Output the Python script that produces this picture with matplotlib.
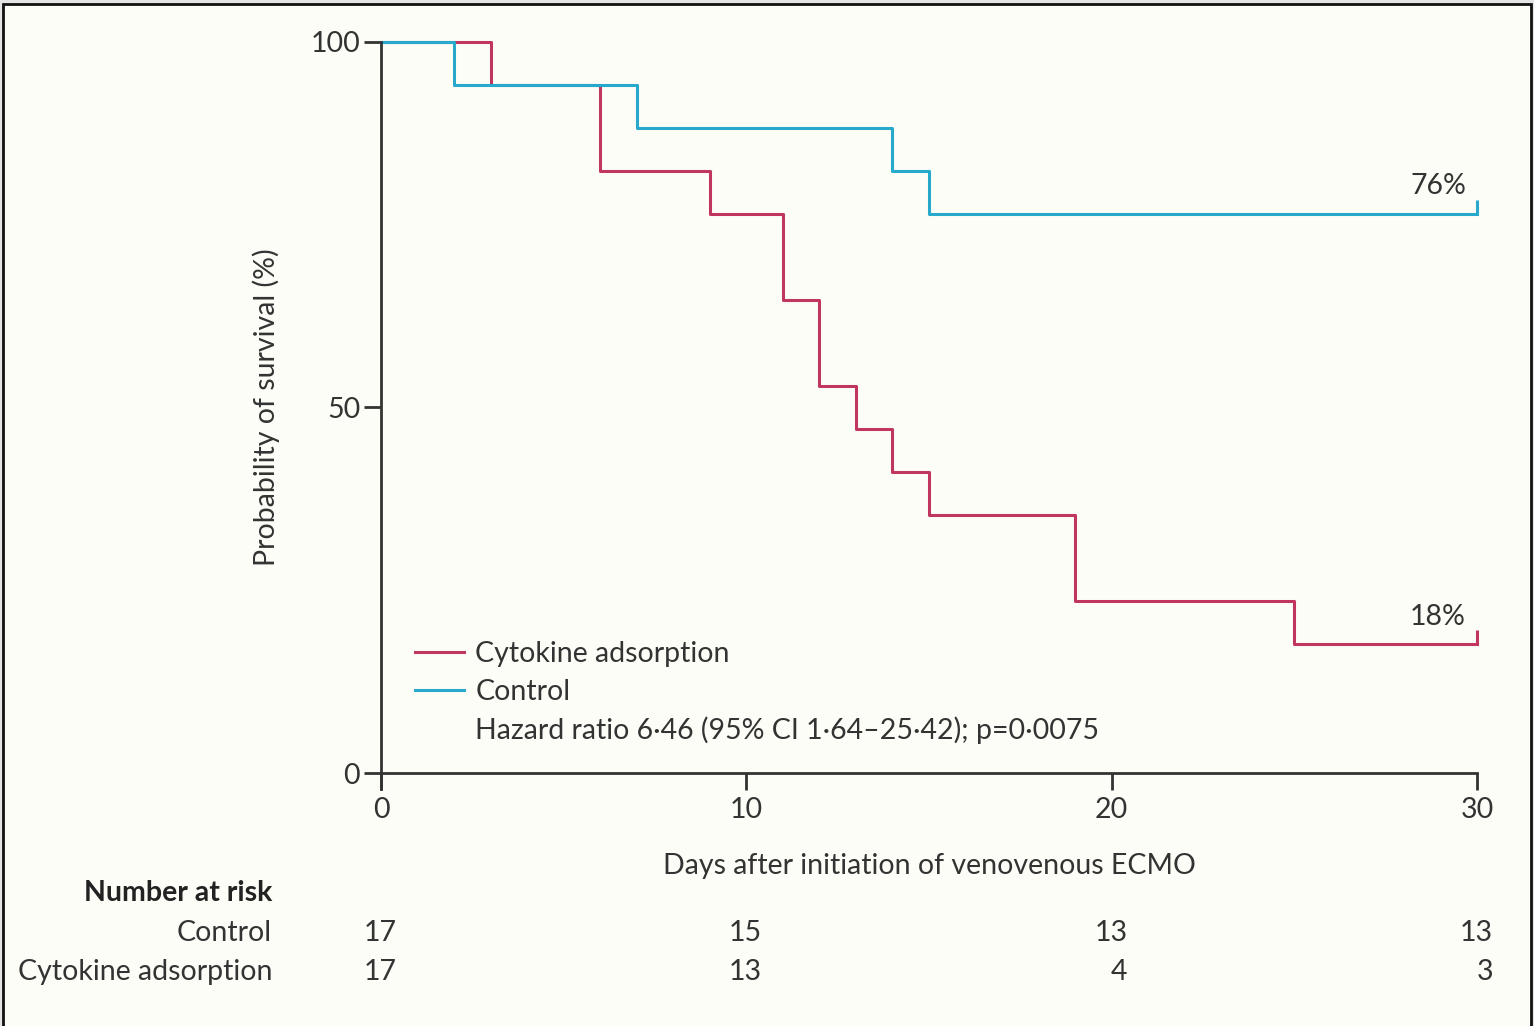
import matplotlib
matplotlib.use("Agg")
import matplotlib.pyplot as plt
from matplotlib.patches import Rectangle
from matplotlib.lines import Line2D
from matplotlib.transforms import blended_transform_factory, offset_copy

# Kaplan-Meier steps
days_cyto = [0, 3, 6, 9, 11, 12, 13, 14, 15, 19, 25, 30]
surv_cyto = [100, 94.1, 82.4, 76.5, 64.7, 52.9, 47.1, 41.2, 35.3, 23.5, 17.6, 17.6]
days_ctrl = [0, 2, 7, 14, 15, 30]
surv_ctrl = [100, 94.1, 88.2, 82.4, 76.5, 76.5]

end_labels = ["18%", "76%"]

risk_times = [0, 10, 20, 30]
risk_ctrl = [17, 15, 13, 13]
risk_cyto = [17, 13, 4, 3]

RED = "#c0365f"
BLUE = "#27a9cb"
INK = "#333333"
BG = "#fdfdf7"
FS = 20.5

plt.rcParams["font.family"] = ["Lato", "DejaVu Sans"]
plt.rcParams["font.size"] = FS

fig = plt.figure(figsize=(15.34, 10.26), dpi=100)
fig.patch.set_facecolor("#e4e4e4")
fig.patches.append(Rectangle((3.5 / 1534, -0.05), 1527 / 1534, 1.05 - 4.5 / 1026,
                             transform=fig.transFigure, facecolor=BG,
                             edgecolor="#111111", linewidth=2, zorder=-10))

ax = fig.add_axes([381 / 1534, 1 - 773 / 1026, 1096 / 1534, 731 / 1026])
ax.set_facecolor("none")

ax.step(days_cyto, surv_cyto, where="post", color=RED, lw=2.2, clip_on=False,
        label="Cytokine adsorption")
ax.step(days_ctrl, surv_ctrl, where="post", color=BLUE, lw=2.2, clip_on=False,
        label="Control")

# censoring ticks at end of follow-up
up_tick = [(0, 0), (0, 1)]
for d, s, c in [(days_cyto, surv_cyto, RED), (days_ctrl, surv_ctrl, BLUE)]:
    ax.plot(d[-1], s[-1], marker=up_tick, ms=20, mew=2.2, color=c, clip_on=False)

for d, s, lab in [(days_cyto, surv_cyto, end_labels[0]), (days_ctrl, surv_ctrl, end_labels[1])]:
    ax.annotate(lab, (d[-1], s[-1]), xytext=(-8, 20), textcoords="offset points",
                ha="right", va="center", color=INK)

ax.set_xlim(0, 30)
ax.set_ylim(0, 100)
ax.set_xticks([0, 10, 20, 30])
ax.set_yticks([0, 50, 100])
ax.tick_params(direction="out", length=12, width=2, color=INK, labelcolor=INK,
               labelsize=FS)
ax.tick_params(axis="x", pad=5)
ax.tick_params(axis="y", pad=3)
for side in ["top", "right"]:
    ax.spines[side].set_visible(False)
for side in ["left", "bottom"]:
    ax.spines[side].set_color(INK)
    ax.spines[side].set_linewidth(2)
ax.spines["left"].set_bounds(-2.2, 100)

ax.set_xlabel("Days after initiation of venovenous ECMO", color=INK, labelpad=22)
ax.set_ylabel("Probability of survival (%)", color=INK, labelpad=22)

handles, labels = ax.get_legend_handles_labels()
handles.append(Line2D([], [], color="none"))
labels.append("Hazard ratio 6\u00b746 (95% CI 1\u00b764\u201325\u00b742); p=0\u00b70075")
ax.legend(handles, labels, loc="lower left", bbox_to_anchor=(0.008, 0.004),
          frameon=False, handlelength=1.7, handletextpad=0.4, labelspacing=0.42,
          labelcolor=INK, fontsize=FS)

# number at risk table
fig.text(272 / 1534, 1 - 893 / 1026, "Number at risk", ha="right", va="center",
         fontweight="bold", color="#222222")
row_y = [1 - 933 / 1026, 1 - 972 / 1026]
risk_trans = offset_copy(blended_transform_factory(ax.transData, fig.transFigure),
                         fig=fig, x=16, y=0, units="dots")
for name, counts, y in [("Control", risk_ctrl, row_y[0]),
                        ("Cytokine adsorption", risk_cyto, row_y[1])]:
    fig.text(272 / 1534, y, name, ha="right", va="center", color=INK)
    for t, n in zip(risk_times, counts):
        fig.text(t, y, str(n), transform=risk_trans, ha="right", va="center", color=INK)

fig.savefig("out.png", dpi=100, facecolor=fig.get_facecolor())
